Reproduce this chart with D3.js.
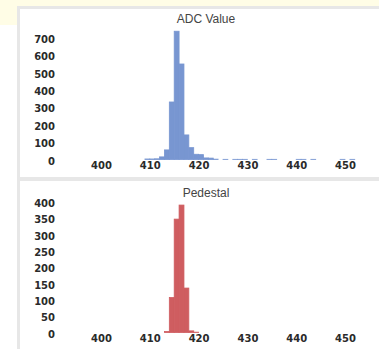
<!DOCTYPE html>
<html><head><meta charset="utf-8">
<script src="https://cdn.jsdelivr.net/npm/d3@7"></script>
<style>
html,body{margin:0;padding:0;background:#fff;}
svg{display:block;}
</style></head>
<body>
<svg id="c" width="379" height="349"></svg>
<script>
// ---- data ----
const adcTitle = "ADC Value";
const adcBins = [409,410,411,412,413,414,415,416,417,418,419,420,421,422,423,425,427,428,429,431,434,435,440,441,443,449,451];
const adcCounts = [3,3,4,15,55,330,736,548,141,68,30,28,9,8,2,1,1,1,1,1,1,1,1,1,1,1,1];
const adcYTicks = [0,100,200,300,400,500,600,700];

const pedTitle = "Pedestal";
const pedBins = [413,414,415,416,417,418,419];
const pedCounts = [3,107,347,390,136,5,1];
const pedYTicks = [0,50,100,150,200,250,300,350,400];

const xTicks = [400,410,420,430,440,450];

// ---- drawing ----
const svg = d3.select("#c");
svg.append("rect").attr("x",0).attr("y",0).attr("width",379).attr("height",6).attr("fill","#fffde6");
svg.append("rect").attr("x",0).attr("y",0).attr("width",17).attr("height",25).attr("fill","#fffde6");
svg.append("rect").attr("x",17).attr("y",6).attr("width",362).attr("height",3).attr("fill","#e7e7e7");
svg.append("rect").attr("x",17).attr("y",6).attr("width",3).attr("height",343).attr("fill","#e7e7e7");
svg.append("rect").attr("x",20).attr("y",177).attr("width",359).attr("height",4).attr("fill","#e7e7e7");

const x = d3.scaleLinear().domain([400,450]).range([101,345]);

function panel(title, bins, counts, yTicks, yMax, y0, yTop, titleY, color){
  const y = d3.scaleLinear().domain([0,yMax]).range([y0,yTop]);
  const g = svg.append("g");
  g.append("text").attr("x",206).attr("y",titleY).attr("text-anchor","middle")
    .attr("font-family","Liberation Sans, Arial, sans-serif").attr("font-size",12)
    .attr("fill","#444").text(title);
  const yAxis = d3.axisLeft(y).tickValues(yTicks).tickSize(0).tickPadding(0);
  const ya = g.append("g").attr("transform","translate(55,1.5)").call(yAxis);
  ya.select(".domain").remove();
  ya.selectAll("text").attr("font-family","DejaVu Sans, sans-serif").attr("font-size",10)
    .attr("font-weight","bold").attr("fill","#2a2a2a");
  const xAxis = d3.axisBottom(x).tickValues(xTicks).tickSize(0).tickPadding(0).tickFormat(d3.format("d"));
  const xa = g.append("g").attr("transform",`translate(0,${y0+2.5})`).call(xAxis);
  xa.select(".domain").remove();
  xa.selectAll("text").attr("font-family","DejaVu Sans, sans-serif").attr("font-size",10)
    .attr("font-weight","bold").attr("fill","#2a2a2a");
  const data = bins.map((b,i)=>({b, c:counts[i]}));
  g.append("g").selectAll("rect").data(data).join("rect")
    .attr("x",d=>x(d.b)).attr("width",d=>x(d.b+1)-x(d.b))
    .attr("y",d=>y(d.c)).attr("height",d=>y0-y(d.c))
    .attr("fill",color).attr("stroke",color).attr("stroke-width",0.8);
}

panel(adcTitle, adcBins, adcCounts, adcYTicks, 700, 159.5, 37.5, 23, "#7896d1");
panel(pedTitle, pedBins, pedCounts, pedYTicks, 400, 332.5, 201.8, 197, "#cf5d60");
</script>
</body></html>
